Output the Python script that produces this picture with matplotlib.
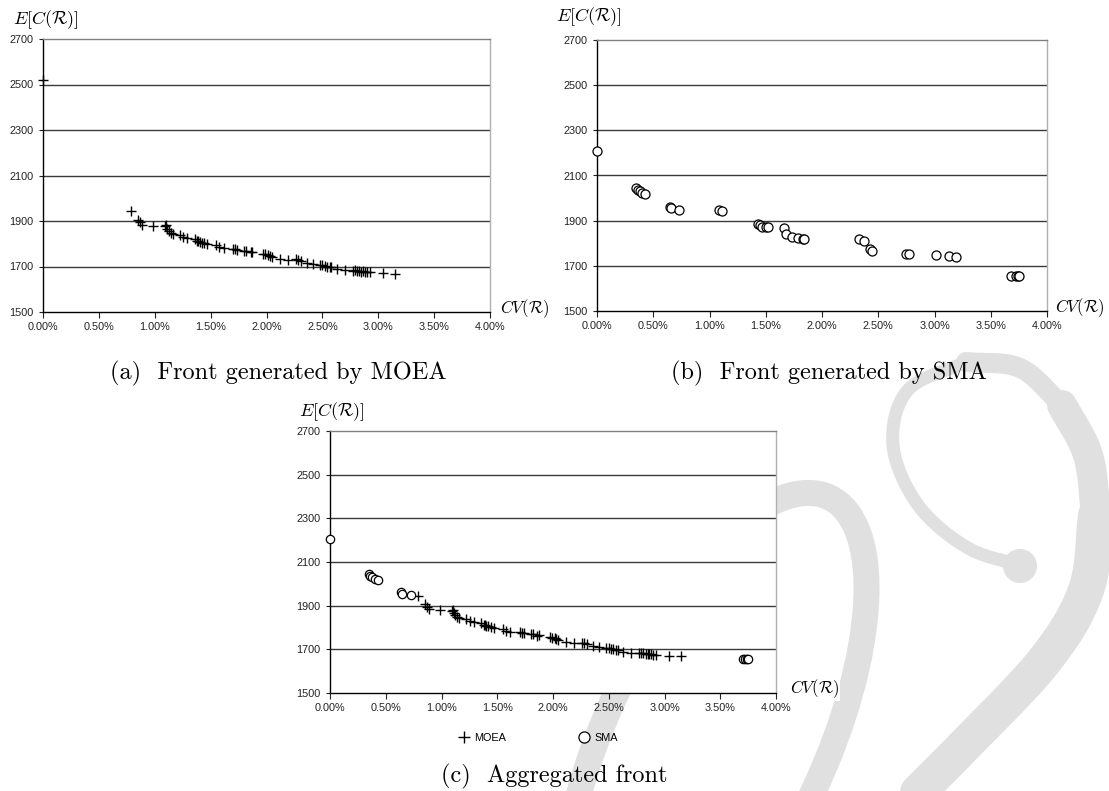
import matplotlib
matplotlib.use("Agg")
import numpy as np
import matplotlib.pyplot as plt
from matplotlib.lines import Line2D
from matplotlib.patches import Ellipse, Circle
from matplotlib.transforms import Affine2D

plt.rcParams['mathtext.fontset'] = 'cm'
plt.rcParams['font.family'] = ['Liberation Sans', 'DejaVu Sans']

# ---------------- data (CV in %, expected cost) ----------------
moea_cv = [0.00, 0.785, 0.85, 0.872, 0.89, 0.985, 1.09, 1.10, 1.11, 1.125, 1.143, 1.16,
           1.224, 1.254, 1.29, 1.358, 1.38, 1.39, 1.403, 1.42, 1.44, 1.47, 1.55, 1.576,
           1.618, 1.70, 1.72, 1.737, 1.80, 1.82, 1.857, 1.87, 1.97, 1.99, 2.015, 2.03,
           2.045, 2.12, 2.19, 2.26, 2.28, 2.307, 2.36, 2.417, 2.477, 2.50, 2.52, 2.54,
           2.567, 2.58, 2.627, 2.70, 2.77, 2.79, 2.806, 2.83, 2.85, 2.865, 2.88, 2.90,
           2.925, 3.044, 3.149]
moea_cost = [2520, 1943, 1906, 1896, 1884, 1878, 1876, 1881, 1866, 1856, 1847, 1842,
             1837, 1830, 1827, 1822, 1812, 1810, 1806, 1805, 1803, 1800, 1793, 1785,
             1781, 1778, 1776, 1774, 1770, 1768, 1763, 1765, 1756, 1754, 1752, 1748,
             1741, 1734, 1730, 1731, 1730, 1723, 1715, 1709, 1707, 1706, 1703, 1700,
             1697, 1698, 1690, 1685, 1682, 1683, 1681, 1680, 1678, 1679, 1677, 1675,
             1675, 1670, 1668]

sma_cv = [0.00, 0.35, 0.36, 0.38, 0.40, 0.43, 0.65, 0.66, 0.73, 1.08, 1.11,
          1.43, 1.45, 1.47, 1.50, 1.52, 1.66, 1.68, 1.73, 1.79, 1.83, 1.84,
          2.33, 2.37, 2.43, 2.44, 2.75, 2.77, 3.01, 3.13, 3.19,
          3.68, 3.72, 3.74, 3.75]
sma_cost = [2207, 2043, 2037, 2031, 2024, 2016, 1961, 1955, 1949, 1946, 1942,
            1885, 1879, 1873, 1870, 1870, 1867, 1841, 1826, 1823, 1819, 1818,
            1818, 1808, 1776, 1766, 1753, 1752, 1749, 1744, 1741,
            1655, 1654, 1654, 1654]

# aggregated (non-dominated) front
agg_moea_cv = moea_cv[1:]
agg_moea_cost = moea_cost[1:]
agg_sma_cv = [0.00, 0.35, 0.36, 0.38, 0.40, 0.43, 0.64, 0.65, 0.73, 3.70, 3.72, 3.74, 3.75]
agg_sma_cost = [2207, 2043, 2037, 2031, 2024, 2016, 1961, 1955, 1949, 1655, 1654, 1654, 1654]

x_ticks = [0.0, 0.5, 1.0, 1.5, 2.0, 2.5, 3.0, 3.5, 4.0]
x_labels = ['0.00%', '0.50%', '1.00%', '1.50%', '2.00%', '2.50%', '3.00%', '3.50%', '4.00%']
y_ticks = [1500, 1700, 1900, 2100, 2300, 2500, 2700]
y_labels = ['1500', '1700', '1900', '2100', '2300', '2500', '2700']

captions = ['(a)  Front generated by MOEA', '(b)  Front generated by SMA', '(c)  Aggregated front']

# ---------------- layout ----------------
W, H = 1109, 791
fig = plt.figure(figsize=(W / 100, H / 100), dpi=100)
fig.patch.set_facecolor('white')
PX = Affine2D().scale(1 / W, -1 / H).translate(0, 1) + fig.transFigure  # image pixels


def fx(x):
    return x / W


def fy(y):
    return 1 - y / H


def make_ax(x0, y0, x1, y1):
    ax = fig.add_axes([fx(x0), fy(y1), (x1 - x0) / W, (y1 - y0) / H])
    ax.set_zorder(1)
    ax.set_xlim(0, 4)
    ax.set_ylim(1500, 2700)
    ax.set_xticks(x_ticks)
    ax.set_xticklabels(x_labels, fontsize=7.8)
    ax.set_yticks(y_ticks)
    ax.set_yticklabels(y_labels, fontsize=7.8)
    ax.tick_params(axis='x', direction='out', length=4, width=0.8, pad=3, colors='#222222')
    ax.tick_params(axis='y', direction='out', length=3, width=0.8, pad=4, colors='#222222')
    for gy in y_ticks[1:-1]:
        ax.axhline(gy, color='#3a3a3a', lw=1.0, zorder=1)
    ax.spines['left'].set_color('black')
    ax.spines['bottom'].set_color('black')
    ax.spines['top'].set_color('#808080')
    ax.spines['right'].set_color('#b0b0b0')
    for s in ax.spines.values():
        s.set_linewidth(1.0)
    return ax


ax_a = make_ax(43, 39, 490, 312)
ax_b = make_ax(597, 40, 1047, 311)
ax_c = make_ax(330, 431, 776, 693)

ax_a.plot(moea_cv, moea_cost, ls='none', marker='+', ms=7, mew=1.0, color='black',
          clip_on=False, zorder=3)
ax_b.plot(sma_cv, sma_cost, ls='none', marker='o', ms=6.5, mew=0.9, mfc='white',
          mec='black', clip_on=False, zorder=3)
ax_c.plot(agg_moea_cv, agg_moea_cost, ls='none', marker='+', ms=7, mew=1.0, color='black',
          clip_on=False, zorder=3)
ax_c.plot(agg_sma_cv, agg_sma_cost, ls='none', marker='o', ms=6, mew=0.9, mfc='white',
          mec='black', clip_on=False, zorder=3)

# axis titles
ylab = r'$E[C(\mathcal{R})]$'
xlab = r'$CV(\mathcal{R})$'
for (ex, ey) in [(13, 20), (556, 17), (299, 412)]:
    fig.text(fx(ex), fy(ey), ylab, fontsize=13, ha='left', va='center', zorder=3)
for (cx, cy) in [(500, 309), (1055, 308), (790, 689)]:
    fig.text(fx(cx), fy(cy), xlab, fontsize=12, ha='left', va='center', zorder=3,
             bbox=dict(facecolor='white', edgecolor='none', pad=0.5))

# captions
for (tx, ty), cap in zip([(278, 373), (829, 373), (554, 776)], captions):
    fig.text(fx(tx), fy(ty), cap, fontsize=17.5, fontfamily='cmr10', ha='center',
             va='center', zorder=3)

# legend of panel (c)
handles = [Line2D([], [], ls='none', marker='+', ms=9, mew=1.0, color='black'),
           Line2D([], [], ls='none', marker='o', ms=8, mew=0.9, mfc='white', mec='black')]
fig.legend(handles, ['MOEA', 'SMA'], loc='center', bbox_to_anchor=(fx(538), fy(738)),
           ncol=2, frameon=False, fontsize=7.8, handlelength=1.1, handletextpad=0.4,
           columnspacing=6.7)

# ---------------- watermark (light gray calligraphic "09") ----------------
WM = '#e0e0e0'


def catmull(pts, n=16):
    p = np.asarray(pts, float)
    p = np.vstack([2 * p[0] - p[1], p, 2 * p[-1] - p[-2]])
    out = []
    for i in range(1, len(p) - 2):
        p0, p1, p2, p3 = p[i - 1], p[i], p[i + 1], p[i + 2]
        for t in np.linspace(0, 1, n, endpoint=False):
            out.append(0.5 * ((2 * p1) + (-p0 + p2) * t + (2 * p0 - 5 * p1 + 4 * p2 - p3) * t ** 2
                              + (-p0 + 3 * p1 - 3 * p2 + p3) * t ** 3))
    out.append(p[-2])
    return np.array(out)


def stroke(pts, width_px):
    c = catmull(pts)
    ln = Line2D(c[:, 0], c[:, 1], color=WM, lw=width_px * 0.72, solid_capstyle='round',
                solid_joinstyle='round', transform=PX, zorder=0.5)
    fig.add_artist(ln)


# "0": a tall slanted oval, mostly below the page
zero = Ellipse((715, 742), width=220, height=540, angle=25, fill=False, edgecolor=WM,
               lw=26 * 0.72, transform=PX, zorder=0.5)
fig.add_artist(zero)

# "9": thin inner bowl stroke ending in a ball, thick outer stroke with long tail
stroke([(1023, 566), (968, 548), (918, 505), (893, 445), (908, 390), (966, 362)], 13)
stroke([(966, 362), (1020, 368), (1062, 405)], 20)
stroke([(1062, 405), (1088, 455), (1096, 515)], 30)
stroke([(1096, 515), (1086, 590), (1045, 660), (965, 745), (900, 810)], 36)
fig.add_artist(Circle((1020, 566), 17, facecolor=WM, edgecolor='none', transform=PX,
                      zorder=0.5))

fig.savefig('out.png', dpi=100, facecolor='white')
